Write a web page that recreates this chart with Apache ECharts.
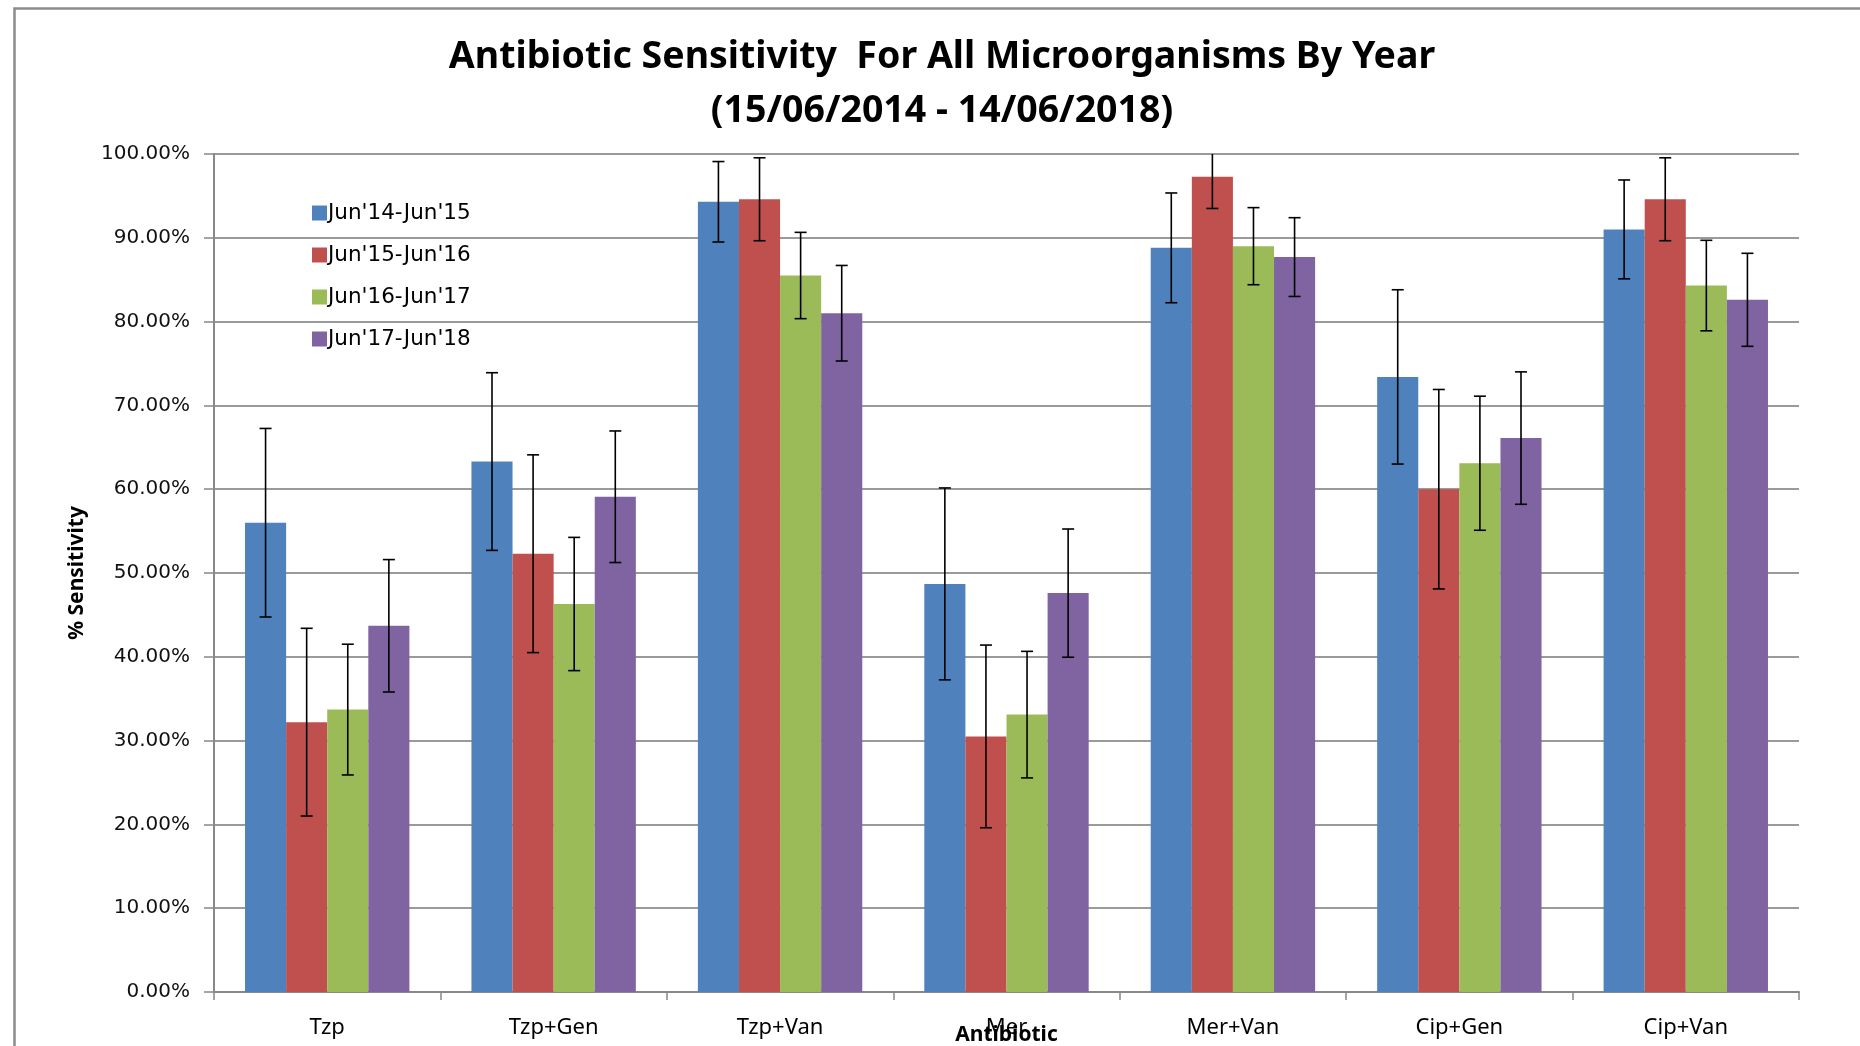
<!DOCTYPE html>
<html>
<head>
<meta charset="utf-8">
<script src="https://cdn.jsdelivr.net/npm/echarts@6/dist/echarts.min.js"></script>
<style>
html,body{margin:0;padding:0;background:#fff;}
#chart{width:1860px;height:1046px;}
</style>
</head>
<body>
<div id="chart"></div>
<script>
const categories = ['Tzp', 'Tzp+Gen', 'Tzp+Van', 'Mer', 'Mer+Van', 'Cip+Gen', 'Cip+Van'];
const seriesNames = ["Jun'14-Jun'15", "Jun'15-Jun'16", "Jun'16-Jun'17", "Jun'17-Jun'18"];
const jun14 = [56.0, 63.3, 94.3, 48.7, 88.8, 73.4, 91.0];
const jun15 = [32.2, 52.3, 94.6, 30.5, 97.3, 60.0, 94.6];
const jun16 = [33.7, 46.3, 85.5, 33.1, 89.0, 63.1, 84.3];
const jun17 = [43.7, 59.1, 81.0, 47.6, 87.7, 66.1, 82.6];
const err14 = [11.25, 10.6, 4.8, 11.45, 6.55, 10.4, 5.9];
const err15 = [11.2, 11.8, 4.95, 10.9, 3.8, 11.9, 4.95];
const err16 = [7.8, 7.95, 5.15, 7.55, 4.6, 8.0, 5.4];
const err17 = [7.9, 7.85, 5.7, 7.65, 4.7, 7.9, 5.55];
const yTicks = [0, 10, 20, 30, 40, 50, 60, 70, 80, 90, 100];

const values = [jun14, jun15, jun16, jun17];
const errors = [err14, err15, err16, err17];
const colors = ['#4F81BD', '#C0504D', '#9BBB59', '#8064A2'];
const GAP = 0.274;
const sans = "'Noto Sans', sans-serif";

const chart = echarts.init(document.getElementById('chart'));

const series = [];
values.forEach((vals, i) => {
  series.push({
    name: seriesNames[i],
    type: 'bar',
    data: vals,
    barGap: '0%',
    barCategoryGap: (GAP * 100) + '%',
    itemStyle: { color: colors[i] },
    z: 2
  });
});
values.forEach((vals, i) => {
  series.push({
    type: 'custom',
    clip: true,
    z: 5,
    silent: true,
    data: vals.map((v, k) => [k, v, errors[i][k]]),
    encode: { x: 0, y: 1 },
    renderItem: function (params, api) {
      const cat = api.value(0), v = api.value(1), e = api.value(2);
      const c = api.coord([cat, v]);
      const bw = api.size([1, 0])[0] * (1 - GAP) / 4;
      const x = c[0] + (i - 1.5) * bw;
      const yt = api.coord([cat, v + e])[1];
      const yb = api.coord([cat, v - e])[1];
      const cap = 6;
      const st = { stroke: '#000', lineWidth: 1.6 };
      return {
        type: 'group',
        children: [
          { type: 'line', shape: { x1: x, y1: yt, x2: x, y2: yb }, style: st },
          { type: 'line', shape: { x1: x - cap, y1: yt, x2: x + cap, y2: yt }, style: st },
          { type: 'line', shape: { x1: x - cap, y1: yb, x2: x + cap, y2: yb }, style: st }
        ]
      };
    }
  });
});

chart.setOption({
  backgroundColor: '#fff',
  animation: false,
  color: colors,
  title: {
    text: 'Antibiotic Sensitivity  For All Microorganisms By Year\n(15/06/2014 - 14/06/2018)',
    left: 937,
    textAlign: 'center',
    top: 25,
    textStyle: { fontFamily: sans, fontWeight: 'bold', fontSize: 37.5, lineHeight: 54, color: '#000' }
  },
  legend: {
    orient: 'vertical',
    left: 307,
    top: 196,
    itemWidth: 15,
    itemHeight: 15,
    itemGap: 18,
    icon: 'rect',
    data: seriesNames,
    textStyle: { fontFamily: "'DejaVu Sans', sans-serif", fontSize: 21.5, lineHeight: 24, color: '#000', padding: [0, 0, 0, -4] }
  },
  grid: { left: 214, right: 61, top: 154, bottom: 54, containLabel: false, outerBoundsMode: 'none' },
  xAxis: {
    type: 'category',
    data: categories,
    name: 'Antibiotic',
    nameLocation: 'middle',
    nameGap: 33,
    nameMoveOverlap: false,
    nameTextStyle: { fontFamily: sans, fontWeight: 'bold', fontSize: 21, color: '#000' },
    axisLine: { lineStyle: { color: '#888', width: 2 } },
    axisTick: { show: true, alignWithLabel: false, length: 8, lineStyle: { color: '#888', width: 1.5 } },
    axisLabel: { fontFamily: sans, fontSize: 22, color: '#000', margin: 25 },
    splitLine: { show: false }
  },
  yAxis: {
    type: 'value',
    min: 0,
    max: 100,
    interval: 10,
    name: '% Sensitivity',
    nameLocation: 'middle',
    nameRotate: 90,
    nameGap: 126,
    nameMoveOverlap: false,
    nameTextStyle: { fontFamily: sans, fontWeight: 'bold', fontSize: 21, color: '#000' },
    axisLine: { show: true, lineStyle: { color: '#888', width: 2 } },
    axisTick: { show: true, length: 10, lineStyle: { color: '#888', width: 1.5 } },
    axisLabel: {
      fontFamily: "'DejaVu Sans', sans-serif",
      fontSize: 20,
      color: '#111',
      margin: 24,
      formatter: v => yTicks.indexOf(v) >= 0 ? v.toFixed(2) + '%' : ''
    },
    splitLine: { show: true, lineStyle: { color: '#9a9a9a', width: 2 } }
  },
  graphic: [{
    type: 'rect',
    left: 12, top: 6,
    shape: { width: 1900, height: 1100 },
    style: { fill: 'none', stroke: '#8c8c8c', lineWidth: 2.5 },
    silent: true
  }],
  series: series
});
</script>
</body>
</html>
